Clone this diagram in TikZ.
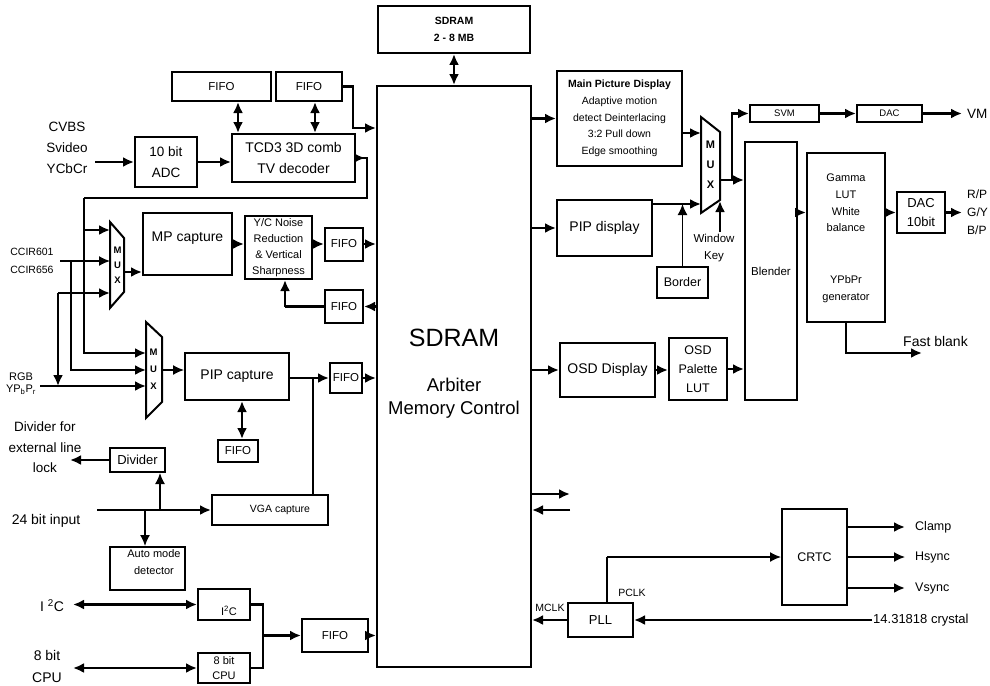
\documentclass[tikz,border=0pt]{standalone}
\usepackage{fontspec}
\setmainfont{Liberation Sans}
\usetikzlibrary{arrows.meta}
\newcommand\fsz[2]{\fontsize{#1}{#2}\selectfont}
\begin{document}
\begin{tikzpicture}[x=1pt,y=-1pt,
  box/.style={draw, line width=2pt, inner sep=0pt, align=center},
  bx/.style 2 args={box, minimum width=#1pt, minimum height=#2pt},
  muxline/.style={draw, line width=2pt, line join=miter},
  lbl/.style={inner sep=0pt, align=center},
  conn/.style={line width=2.5pt},
  tconn/.style={line width=1.4pt},
  arr/.style={conn, -{Latex[length=11pt,width=10pt]}},
  tarr/.style={tconn, -{Latex[length=11pt,width=10pt]}},
  darr/.style={conn, {Latex[length=11pt,width=10pt]}-{Latex[length=11pt,width=10pt]}}]
\fill[white] (0,0) rectangle (990,685);
\useasboundingbox (0,0) rectangle (990,685);

% ---------- SDRAM ----------
\node[bx={152}{47}, font=\fsz{10.5}{17}\bfseries] (sdram2) at (454,29.5) {SDRAM\\2 - 8 MB};
\node[bx={154}{581}] (sdram) at (454,376.5) {};
\node[lbl, font=\fsz{25}{30}] (sdt1) at (454,338) {SDRAM};
\node[lbl, font=\fsz{18.5}{22}] (sdt2) at (454,385) {Arbiter};
\node[lbl, font=\fsz{18.5}{22}] (sdt3) at (454,410) {Memory Control};
\draw[darr] (sdram2.south) -- (sdram.north);

% ---------- left top ----------
\node[lbl, font=\fsz{13.5}{21}] (cvbs) at (67,148) {CVBS\\Svideo\\YCbCr};
\coordinate (cvbsin) at (95,162);
\node[bx={62}{50}, font=\fsz{13.5}{21}] (adc) at (166,162) {10 bit\\ADC};
\node[bx={123}{48}, font=\fsz{14}{21}] (tcd) at (293.5,158) {TCD3 3D comb\\TV decoder};
\node[bx={99}{29}, font=\fsz{11.5}{14}] (fifo1) at (221.5,86.5) {FIFO};
\node[bx={66}{29}, font=\fsz{11.5}{14}] (fifo2) at (309,86.5) {FIFO};
\draw[arr] (cvbsin) -- (adc.west);
\draw[arr] (adc.east) -- (adc.east -| tcd.west);
\draw[darr] ([xshift=16.5pt]fifo1.south) -- ([xshift=16.5pt]fifo1.south |- tcd.north);
\draw[darr] ([xshift=6pt]fifo2.south) -- ([xshift=6pt]fifo2.south |- tcd.north);
\coordinate (j1) at (353,128);
\draw[arr] (fifo2.east) -| (j1) -- (j1 -| sdram.west);

% TV decoder output to muxes
\coordinate (j2) at (367,198);
\coordinate (j3) at (84,198);
\coordinate (j4) at (84,230);
\coordinate (m1a) at (110,230);
\coordinate (m2a) at (146,353);
\draw[conn] (tcd.east) -| (j2) -- (j3);
\draw[arr] (tcd.east) -- ++(9,0);
\draw[arr] (j3) |- (m2a);
\draw[arr] (j4) -- (m1a);

% CCIR inputs
\node[lbl, font=\fsz{10.5}{18}] (ccir) at (32,261) {CCIR601\\CCIR656};
\coordinate (ccin) at (60,261);
\coordinate (j5) at (71,261);
\coordinate (m1b) at (110,261);
\coordinate (m2b) at (146,370);
\draw[tarr] (ccin) -- (m1b);
\draw[arr] (j5) |- (m2b);

% RGB inputs
\node[lbl, font=\fsz{11}{12}] (rgb) at (21,384) {RGB\\YP\textsubscript{b}P\textsubscript{r}};
\coordinate (rgbin) at (40,386);
\coordinate (m2c) at (146,386);
\coordinate (j6) at (58,293);
\coordinate (m1c) at (110,293);
\draw[arr] (rgbin) -- (m2c);
\draw[arr] (j6) -- (m1c);
\draw[arr] (j6) -- (j6 |- rgbin);

% MUX 1
\draw[muxline] (110,222) -- (124,238) -- (124,292) -- (110,308) -- cycle;
\node[lbl, font=\fsz{9.5}{15}\bfseries] (mux1t) at (117.5,265) {M\\U\\X};
\node[bx={89}{62}] (mpcap) at (187.5,244) {};
\node[lbl, font=\fsz{14}{16}] (mpt) at (187.5,238) {MP capture};
\coordinate (m1o) at (124,272);
\draw[arr] (m1o) -- (m1o -| mpcap.west);

% noise reduction and fifos
\node[bx={67}{63}, font=\fsz{11}{16}] (noise) at (278.5,247.5) {Y/C Noise\\Reduction\\\& Vertical\\Sharpness};
\node[bx={38}{33}, font=\fsz{11.5}{14}] (fifoA) at (344,244) {FIFO};
\node[bx={38}{33}, font=\fsz{11.5}{14}] (fifoB) at (344,306.5) {FIFO};
\draw[arr] (mpcap.east) -- (mpcap.east -| noise.west);
\draw[arr] (noise.east |- fifoA.west) -- (fifoA.west);
\draw[arr] (fifoA.east) -- (fifoA.east -| sdram.west);
\draw[arr] (fifoB.east -| sdram.west) -- (fifoB.east);
\coordinate (j7) at (285,306.5);
\draw[conn] (fifoB.west) -- (j7);
\draw[arr] (j7) -- (j7 |- noise.south);

% MUX 2 and PIP capture
\draw[muxline] (146,322) -- (162,337) -- (162,402) -- (146,418) -- cycle;
\node[lbl, font=\fsz{9.5}{17}\bfseries] (mux2t) at (153.5,369) {M\\U\\X};
\node[bx={104}{47}, font=\fsz{14}{16}] (pipcap) at (237,376.5) {PIP capture};
\coordinate (m2o) at (162,370);
\draw[tarr] (m2o) -- (m2o -| pipcap.west);
\node[bx={32}{30}, font=\fsz{11.5}{14}] (fifoP) at (346,378) {FIFO};
\node[bx={40}{22}, font=\fsz{11.5}{14}] (fifoD) at (238,451) {FIFO};
\draw[darr] ([xshift=5pt]pipcap.south) -- ([xshift=5pt]pipcap.south |- fifoD.north);
\coordinate (j8) at (313,378);
\draw[tconn] (pipcap.east |- j8) -- (j8);
\draw[arr] (j8) -- (fifoP.west);
\draw[arr] (fifoP.east) -- (fifoP.east -| sdram.west);

% divider, VGA capture, auto mode
\node[lbl, font=\fsz{13.5}{20.5}] (divt) at (45,447.5) {Divider for\\external line\\lock};
\node[bx={55}{24}, font=\fsz{13}{15}] (divider) at (137.5,460) {Divider};
\coordinate (divout) at (70,460);
\draw[arr] (divider.west) -- (divout);
\node[lbl, font=\fsz{14}{16}] (in24) at (46,521) {24 bit input};
\node[bx={116}{30}] (vga) at (270,510) {};
\node[lbl, font=\fsz{10.5}{12}] (vgat) at (280,510) {VGA capture};
\node[bx={75}{43}] (auto) at (147.5,568.5) {};
\node[lbl, font=\fsz{11}{17}] (autot) at (154,562) {Auto mode\\detector};
\coordinate (in24c) at (97,510);
\coordinate (j9) at (160,510);
\coordinate (j10) at (145,510);
\draw[arr] (in24c) -- (in24c -| vga.west);
\draw[tarr] (j9) -- (j9 |- divider.south);
\draw[tarr] (j10) -- (j10 |- auto.north);
\draw[tconn] (j8) -- (j8 |- vga.north);

% I2C, CPU
\node[lbl, font=\fsz{14}{16}] (i2cl) at (52,606) {I \textsuperscript{2}C};
\node[lbl, font=\fsz{14}{22}] (cpul) at (47,666) {8 bit\\CPU};
\node[bx={52}{31}] (i2c) at (224,604.5) {};
\node[lbl, font=\fsz{11}{13}] (i2ct) at (229,611) {I\textsuperscript{2}C};
\node[bx={52}{30}, font=\fsz{11}{15}] (cpu) at (224,668) {8 bit\\CPU};
\node[bx={66}{33}, font=\fsz{11.5}{14}] (fifoC) at (335,635.5) {FIFO};
\coordinate (i2cin) at (73,604.5);
\coordinate (cpuin) at (73,668);
\draw[darr] (i2cin) -- (i2cin -| i2c.west);
\draw[darr] (cpuin) -- (cpuin -| cpu.west);
\coordinate (j11) at (263,604.5);
\coordinate (j12) at (263,668);
\coordinate (j13) at (263,635.5);
\draw[conn] (i2c.east) -- (j11) -- (j12) -- (cpu.east);
\draw[arr] (j13) -- (fifoC.west);
\draw[arr] (fifoC.east) -- (fifoC.east -| sdram.west);

% ---------- right side ----------
\node[bx={125}{95}, font=\fsz{10.5}{16.7}] (mpd) at (619.5,118.5) {{\bfseries Main Picture Display}\\Adaptive motion\\detect Deinterlacing\\3:2 Pull down\\Edge smoothing};
\draw[arr] (mpd.west -| sdram.east) -- (mpd.west);
\draw[muxline] (701,117) -- (720,132) -- (720,200) -- (701,213) -- cycle;
\node[lbl, font=\fsz{11}{20}\bfseries] (mux3t) at (710.5,165) {M\\U\\X};
\coordinate (m3a) at (701,133);
\draw[arr] (mpd.east |- m3a) -- (m3a);
\node[bx={95}{56}, font=\fsz{14}{16}] (pipd) at (604.5,228) {PIP display};
\draw[arr] (pipd.west -| sdram.east) -- (pipd.west);
\coordinate (m3b) at (701,204);
\draw[arr] (pipd.east |- m3b) -- (m3b);
\node[bx={51}{31}, font=\fsz{12.5}{14}] (border) at (682.5,282.5) {Border};
\coordinate (j14) at (682.5,204);
\draw[tarr] (border.north) -- (j14);
\coordinate (wk) at (720,232);
\coordinate (m3c) at (720,201);
\draw[arr] (wk) -- (m3c);
\node[lbl, font=\fsz{11.5}{17}] (wkt) at (714,248) {Window\\Key};

\node[bx={69}{17}, font=\fsz{9.5}{11}] (svm) at (784.5,113.5) {SVM};
\node[bx={65}{17}, font=\fsz{9.5}{11}] (dac) at (889.5,113.5) {DAC};
\node[bx={52}{258}, font=\fsz{11.5}{13}] (blender) at (771,271) {Blender};
\coordinate (m3o) at (720,180);
\coordinate (j15) at (732,180);
\draw[tconn] (m3o) -- (j15);
\draw[arr] (j15) |- (svm.west);
\draw[arr] (j15) -- (j15 -| blender.west);
\draw[arr] (svm.east) -- (dac.west);
\coordinate (vmo) at (962,113.5);
\draw[arr] (dac.east) -- (vmo);
\node[lbl, anchor=west, font=\fsz{13.5}{16}] (vm) at (967,113.5) {VM};

\node[bx={78}{169}] (gamma) at (846,237.5) {};
\node[lbl, font=\fsz{11}{16.7}] (gt1) at (846,203) {Gamma\\LUT\\White\\balance};
\node[lbl, font=\fsz{11}{17}] (gt2) at (846,289) {YPbPr\\generator};
\node[bx={48}{41}, font=\fsz{13}{19}] (dac10) at (921,212.5) {DAC\\10bit};
\coordinate (g1) at (807,212.5);
\draw[arr] (g1 -| blender.east) -- (gamma.west |- g1);
\draw[arr] (gamma.east |- dac10.west) -- (dac10.west);
\coordinate (rgbo) at (962,212.5);
\draw[arr] (dac10.east) -- (rgbo);
\node[lbl, anchor=west, font=\fsz{12}{14}] (rpr) at (967,194) {R/P};
\node[lbl, anchor=west, font=\fsz{12}{14}] (gy) at (967,212) {G/Y};
\node[lbl, anchor=west, font=\fsz{12}{14}] (bpb) at (967,230) {B/P};
\coordinate (fb2) at (922,353);
\draw[arr] (gamma.south) |- (fb2);
\node[lbl, anchor=west, font=\fsz{14}{16}] (fbt) at (903,341) {Fast blank};

\node[bx={95}{54}, font=\fsz{14}{16}] (osd) at (607.5,370) {OSD Display};
\node[bx={58}{62}, font=\fsz{12.5}{19}] (pal) at (698,369) {OSD\\Palette\\LUT};
\draw[arr] (osd.west -| sdram.east) -- (osd.west);
\draw[arr] (osd.east) -- (osd.east -| pal.west);
\draw[arr] (pal.east) -- (pal.east -| blender.west);

% external bus arrows
\coordinate (bo1) at (570,494);
\coordinate (bo2) at (570,510);
\draw[arr] (bo1 -| sdram.east) -- (bo1);
\draw[arr] (bo2) -- (bo2 -| sdram.east);

% PLL and CRTC
\node[bx={65}{34}, font=\fsz{13}{15}] (pll) at (600.5,620) {PLL};
\draw[arr] (pll.west) -- (pll.west -| sdram.east);
\node[lbl, font=\fsz{10.5}{12}] (mclk) at (550,608) {MCLK};
\coordinate (xtal) at (872,620);
\draw[arr] (xtal) -- (pll.east);
\node[lbl, anchor=west, font=\fsz{13}{15}] (xtalt) at (873,620) {14.31818 crystal};
\node[bx={65}{96}, font=\fsz{12.5}{15}] (crtc) at (814.5,557) {CRTC};
\coordinate (pc1) at (607,557);
\draw[tconn] (pll.north -| pc1) -- (pc1);
\draw[tarr] (pc1) -- (pc1 -| crtc.west);
\node[lbl, font=\fsz{10.5}{12}] (pclk) at (632,593) {PCLK};
\coordinate (cl) at (905,527);
\coordinate (hs) at (905,557);
\coordinate (vs) at (905,588);
\draw[arr] (cl -| crtc.east) -- (cl);
\draw[tarr] (hs -| crtc.east) -- (hs);
\draw[arr] (vs -| crtc.east) -- (vs);
\node[lbl, anchor=west, font=\fsz{12.5}{14}] (clt) at (915,527) {Clamp};
\node[lbl, anchor=west, font=\fsz{12.5}{14}] (hst) at (915,557) {Hsync};
\node[lbl, anchor=west, font=\fsz{12.5}{14}] (vst) at (915,588) {Vsync};
\end{tikzpicture}
\end{document}
